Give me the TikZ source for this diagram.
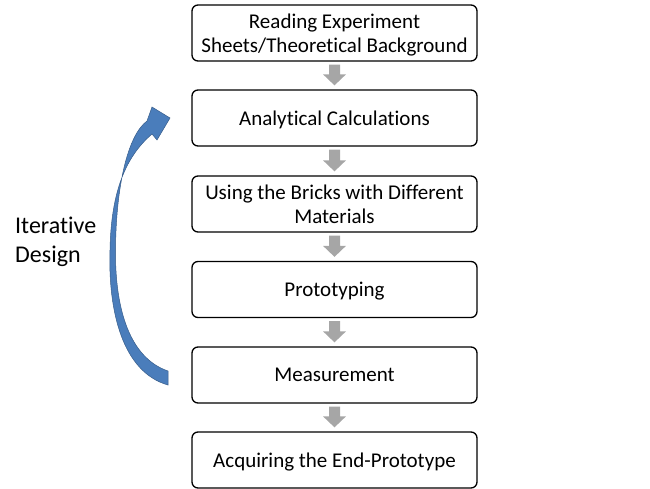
\documentclass[tikz,border=0pt]{standalone}
\usepackage{fontspec}
\setmainfont{Carlito}[Ligatures=NoCommon]
\usetikzlibrary{calc}
\begin{document}
\begin{tikzpicture}[x=1pt,y=-1pt,
  stepbox/.style={draw=black,line width=1.3pt,rounded corners=6pt,minimum width=285pt,minimum height=56pt,align=center,font=\fontsize{21}{24}\selectfont,inner sep=0pt,text depth=0pt},
  grayarrow/.style={fill=black!35,draw=none}]
\useasboundingbox (0,0) rectangle (650,489);
\node[stepbox] (b1) at (334.5,33) {Reading Experiment\\Sheets/Theoretical Background};
\node[stepbox] (b2) at (334.5,118) {Analytical Calculations};
\node[stepbox] (b3) at (334.5,204) {Using the Bricks with Different\\Materials};
\node[stepbox] (b4) at (334.5,289.5) {Prototyping};
\node[stepbox] (b5) at (334.5,375) {Measurement};
\node[stepbox] (b6) at (334.5,460) {Acquiring the End-Prototype};
\foreach \a/\b in {b1/b2,b2/b3,b3/b4,b4/b5,b5/b6}{
  \path (\a.south) ++(0,3) coordinate (s) (\b.north) ++(0,-4) coordinate (t);
  \fill[grayarrow] ($(s)+(-5.5,0)$) -- ($(s)+(5.5,0)$) -- ($(t)+(5.5,-11)$) -- ($(t)+(11.5,-11)$) -- (t) -- ($(t)+(-11.5,-11)$) -- ($(t)+(-5.5,-11)$) -- cycle;
}
\node[font=\fontsize{24}{29}\selectfont,align=left,anchor=west,inner sep=0pt] (it) at (15,242) {Iterative\\Design};
\fill[fill={rgb,255:red,74;green,125;blue,187},draw={rgb,255:red,56;green,93;blue,138},line width=0.5pt]
  (168,385) .. controls (122,372) and (108,310) .. (110,250)
  .. controls (111,195) and (124,158) .. (152,134)
  -- (157,140) -- (170,118) -- (152,107) -- (147,121)
  .. controls (128,135) and (116,185) .. (115.5,250)
  .. controls (115,310) and (130,358) .. (168,371) -- cycle;
\end{tikzpicture}
\end{document}
